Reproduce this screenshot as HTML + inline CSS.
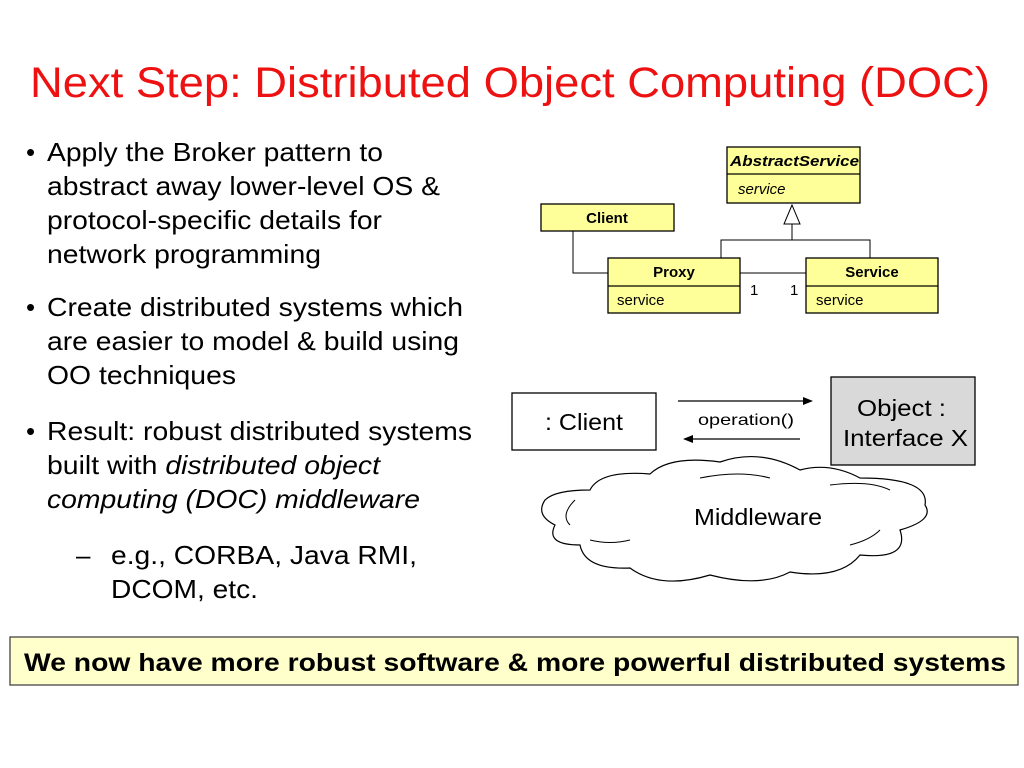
<!DOCTYPE html>
<html><head><meta charset="utf-8"><style>
body{margin:0;width:1024px;height:768px;background:#fff;font-family:"Liberation Sans",Arial,sans-serif;overflow:hidden}
</style></head><body>
<svg width="1024" height="768" style="position:absolute;left:0;top:0" font-family="Liberation Sans, Arial, sans-serif">
<text x="30" y="97" font-size="43" fill="#ee1111" textLength="960" lengthAdjust="spacingAndGlyphs">Next Step: Distributed Object Computing (DOC)</text>
<g font-size="26" fill="#000">
<text x="26" y="161">•</text>
<text x="47" y="161" textLength="336" lengthAdjust="spacingAndGlyphs">Apply the Broker pattern to</text>
<text x="47" y="195" textLength="393" lengthAdjust="spacingAndGlyphs">abstract away lower-level OS &amp;</text>
<text x="47" y="229" textLength="335" lengthAdjust="spacingAndGlyphs">protocol-specific details for</text>
<text x="47" y="263" textLength="274" lengthAdjust="spacingAndGlyphs">network programming</text>
<text x="26" y="316">•</text>
<text x="47" y="316" textLength="416" lengthAdjust="spacingAndGlyphs">Create distributed systems which</text>
<text x="47" y="350" textLength="412" lengthAdjust="spacingAndGlyphs">are easier to model &amp; build using</text>
<text x="47" y="384" textLength="189" lengthAdjust="spacingAndGlyphs">OO techniques</text>
<text x="26" y="440">•</text>
<text x="47" y="440" textLength="425" lengthAdjust="spacingAndGlyphs">Result: robust distributed systems</text>
<text x="47" y="474" textLength="333" lengthAdjust="spacingAndGlyphs">built with <tspan font-style="italic">distributed object</tspan></text>
<text x="47" y="508" font-style="italic" textLength="373" lengthAdjust="spacingAndGlyphs">computing (DOC) middleware</text>
<text x="76" y="564">–</text>
<text x="111" y="564" textLength="306" lengthAdjust="spacingAndGlyphs">e.g., CORBA, Java RMI,</text>
<text x="111" y="598" textLength="147" lengthAdjust="spacingAndGlyphs">DCOM, etc.</text>
</g>
<g stroke="#000" stroke-width="1.3" fill="#ffff99">
<rect x="727" y="147" width="133" height="56"/><line x1="727" y1="174" x2="860" y2="174"/>
<rect x="541" y="204" width="133" height="27"/>
<rect x="608" y="258" width="132" height="55"/><line x1="608" y1="286" x2="740" y2="286"/>
<rect x="806" y="258" width="132" height="55"/><line x1="806" y1="286" x2="938" y2="286"/>
</g>
<g stroke="#000" stroke-width="1" fill="none">
<polygon points="792,205 784,224 800,224" fill="#fff"/>
<polyline points="792,224 792,240"/><polyline points="721,258 721,240 870,240 870,258"/>
<polyline points="573,231 573,273 608,273"/><line x1="740" y1="273" x2="806" y2="273"/>
</g>
<g font-size="15" fill="#000">
<text x="730" y="166" font-weight="bold" font-style="italic" textLength="129" lengthAdjust="spacingAndGlyphs">AbstractService</text>
<text x="738" y="194" font-style="italic">service</text>
<text x="607" y="223" text-anchor="middle" font-weight="bold">Client</text>
<text x="674" y="277" text-anchor="middle" font-weight="bold">Proxy</text>
<text x="872" y="277" text-anchor="middle" font-weight="bold">Service</text>
<text x="617" y="305">service</text><text x="816" y="305">service</text>
<text x="750" y="295">1</text><text x="790" y="295">1</text>
</g>
<rect x="512" y="393" width="144" height="57" fill="#fff" stroke="#000" stroke-width="1.3"/>
<text x="545" y="430" font-size="23" textLength="78" lengthAdjust="spacingAndGlyphs">: Client</text>
<rect x="831" y="377" width="144" height="88" fill="#d9d9d9" stroke="#000" stroke-width="1.3"/>
<text x="857" y="416" font-size="23" textLength="89" lengthAdjust="spacingAndGlyphs">Object :</text>
<text x="843" y="446" font-size="23" textLength="125" lengthAdjust="spacingAndGlyphs">Interface X</text>
<g stroke="#000" stroke-width="1.3"><line x1="678" y1="401" x2="805" y2="401"/><line x1="685" y1="439" x2="800" y2="439"/></g>
<polygon points="813,401 803,397 803,405" fill="#000"/><polygon points="683,439 693,435 693,443" fill="#000"/>
<text x="698" y="425" font-size="16" textLength="96" lengthAdjust="spacingAndGlyphs">operation()</text>
<path d="M590,490 Q600,470 650,474 Q670,455 720,462 Q760,448 800,470 Q830,462 860,478 Q930,478 925,505 Q935,520 900,530 Q910,560 860,555 Q840,580 790,572 Q760,588 710,575 Q660,590 630,568 Q585,570 580,545 Q545,545 555,525 Q535,515 545,500 Q555,490 590,490 Z" fill="#fff" stroke="#000" stroke-width="1.2"/>
<path d="M575,500 Q560,515 570,525 M700,478 Q740,470 770,478 M830,485 Q870,480 890,490 M590,540 Q610,545 630,540 M850,545 Q870,540 880,530" fill="none" stroke="#000" stroke-width="1"/>
<text x="694" y="525" font-size="23" textLength="128" lengthAdjust="spacingAndGlyphs">Middleware</text>
<rect x="10" y="637" width="1008" height="48" fill="#ffffcc" stroke="#444" stroke-width="1.3"/>
<text x="24" y="671" font-size="25" font-weight="bold" textLength="982" lengthAdjust="spacingAndGlyphs">We now have more robust software &amp; more powerful distributed systems</text>
</svg>
</body></html>
